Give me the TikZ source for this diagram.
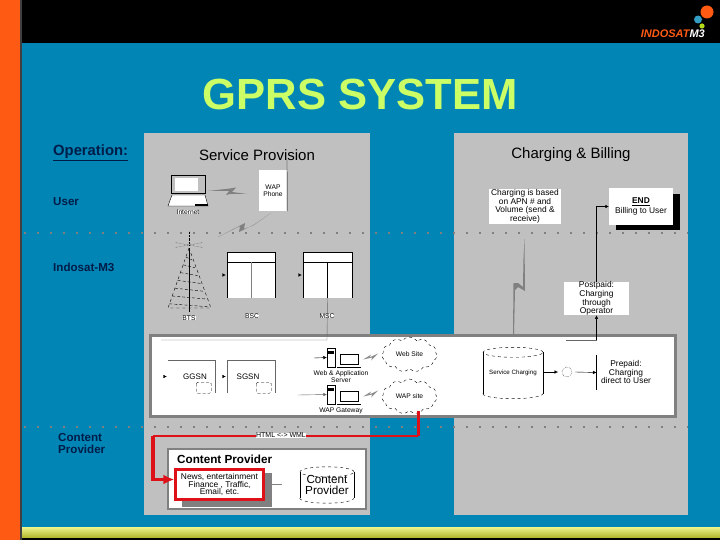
\documentclass[tikz,border=0pt]{standalone}
\usepackage{fontspec}
\setmainfont{Liberation Sans}
\usetikzlibrary{arrows.meta,shapes.symbols,calc}
\definecolor{slideblue}{RGB}{0,133,181}
\definecolor{panelgray}{RGB}{192,192,192}
\definecolor{labelnavy}{RGB}{0,28,72}
\definecolor{titlegreen}{RGB}{204,255,102}
\definecolor{logoorange}{RGB}{255,90,20}
\definecolor{linkred}{RGB}{222,16,24}
\definecolor{barlight}{RGB}{238,245,140}
\definecolor{bardark}{RGB}{175,180,40}
\tikzset{
    whitebox/.style={fill=white, inner sep=0pt, align=center, text=black},
    sidelabel/.style={anchor=west, inner sep=0pt, align=left, text=labelnavy, font=\fontsize{11.6}{12}\selectfont\bfseries},
    headlabel/.style={inner sep=0pt, text=black, font=\fontsize{15}{15}\selectfont},
    boxtext/.style={font=\fontsize{8.4}{7.8}\selectfont},
    tinytext/.style={whitebox, font=\fontsize{6.7}{7}\selectfont},
    dotline/.style={gray, line width=1.3pt, dash pattern=on 2pt off 11pt},
    tickin/.style={-{Latex[length=3.5pt,width=3.5pt]}, black},
    boltfill/.style={fill=black!50, draw=none},
    cloudsite/.style={cloud, cloud puffs=11, cloud puff arc=110, aspect=1.5, draw, dashed, fill=white, inner sep=0pt,
        minimum width=55pt, minimum height=35pt, font=\fontsize{6.7}{7}\selectfont},
    redlink/.style={linkred, line width=2pt},
    sheet/.style={draw=black!50, line width=2.4pt, fill=white, inner sep=0pt}
}
\begin{document}
\begin{tikzpicture}[x=1pt,y=-1pt]
    \useasboundingbox (0,0) rectangle (720,540);

    % 幻灯片背景
    \fill[slideblue] (0,0) rectangle (720,540);
    \fill[black] (0,0) rectangle (720,43);
    \shade[top color=barlight, bottom color=bardark] (22,527) rectangle (720,538);
    \fill[black] (22,538) rectangle (720,540);
    \fill[logoorange] (0,0) rectangle (20,540);
    \fill[black!75] (20,0) rectangle (22,540);

    % 标志
    \fill[logoorange] (707,12) circle (6.5);
    \fill[slideblue!80!white] (698,19.5) circle (4);
    \fill[yellow!70!green] (702,26) circle (2.6);
    \node[anchor=east, inner sep=0pt, font=\fontsize{11}{11}\selectfont\bfseries\itshape] (logo) at (705,34)
        {\textcolor{logoorange}{INDOSAT}\textcolor{white}{M3}};

    % 标题
    \node[inner sep=0pt, text=titlegreen, font=\fontsize{43.6}{44}\selectfont\bfseries] (title) at (360,94) {GPRS SYSTEM};

    % 灰色面板
    \fill[panelgray] (144,133) rectangle (370,515);
    \fill[panelgray] (454,133) rectangle (688,515);
    \foreach \y in {233,427} {
            \draw[dotline] (24,\y) -- (688,\y);
        }

    % 左侧标签
    \node[sidelabel, font=\fontsize{14.8}{15}\selectfont\bfseries] (operation) at (53,153) {\underline{Operation:}};
    \node[sidelabel] (user) at (53,202) {User};
    \node[sidelabel] (indosat) at (53,267) {Indosat-M3};
    \node[sidelabel, anchor=north west] (content) at (58,433) {Content\\Provider};

    % 面板标题
    \node[headlabel] (service) at (257,155) {Service Provision};
    \node[headlabel] (charging) at (571,155) {Charging \& Billing};

    % 笔记本和手机
    \draw[black, fill=panelgray] (171,175) rectangle (205,193);
    \fill[white] (175,178) rectangle (198,191);
    \draw[black, fill=white] (172,195) -- (205,195) -- (208,206) -- (168,206) -- cycle;
    \fill[black] (195,204) rectangle (208,206);
    \node[tinytext] (internet) at (188,212) {Internet};
    \node[whitebox, minimum width=28pt, minimum height=41pt, font=\fontsize{6.7}{7}\selectfont] (wapphone) at (273,190.5) {WAP\\Phone};
    \draw[black] (wapphone.south east) -- (287,160);
    \fill[boltfill] (208,191) -- (230,188.5) -- (236,187.5) -- (232,192) -- (247,194) -- (230,194) -- (226,195) -- (229,191) -- cycle;
    \fill[boltfill] (271,213) -- (254,225) -- (244,229) -- (245,223) -- (218,237) -- (240,226) -- (239,232) -- (255,224) -- cycle;

    % 基站塔
    \draw[black, dashed] (189,248) -- (168,308) -- (211,308) -- cycle;
    \draw[black] (189,248) -- (189,312);
    \foreach \t in {0.15,0.28,...,0.95} {
            \draw[black, densely dashed] ({189-21*\t},{248+60*\t}) -- ({189+21*\t},{248+60*\t+3});
        }
    \foreach \r in {-90,-170,-10,170,10} {
            \draw[black, densely dotted] (189,245) -- ++(\r:14);
        }
    \node[tinytext] (bts) at (189,318) {BTS};

    % BSC 和 MSC
    \node[whitebox, minimum width=48pt, minimum height=46pt] (bsc) at (251,275) {};
    \node[whitebox, minimum width=49pt, minimum height=46pt] (msc) at (327.5,275) {};
    \foreach \n in {bsc,msc} {
            \draw[black] (\n.south west) -- (\n.north west) -- (\n.north east) -- (\n.south east);
            \draw[black] ($(\n.north west)+(0,10)$) -- ($(\n.north east)+(0,10)$);
            \draw[tickin] ($(\n.west)+(-4,0)$) -- ($(\n.west)+(-1,0)$);
        }
    \draw[gray] ($(bsc.north)+(0,10)$) -- (bsc.south);
    \draw[black] ($(msc.north)+(0,10)$) -- (msc.south);
    \node[tinytext] (bsclabel) at (252,316) {BSC};
    \node[tinytext] (msclabel) at (327,316) {MSC};

    % 中部白色面板
    \node[sheet, minimum width=525pt, minimum height=81pt] (core) at (413,376) {};
    \coordinate (corelink) at (161,340);
    \draw[black!60] (msc.south) -- (327,340) -- (corelink);

    % GGSN 和 SGSN
    \node[whitebox, minimum width=47pt, minimum height=33pt, font=\fontsize{8}{8}\selectfont] (ggsn) at (191.5,376.5) {\hspace*{7pt}GGSN};
    \node[whitebox, minimum width=48pt, minimum height=33pt, font=\fontsize{8}{8}\selectfont] (sgsn) at (251,376.5) {\hspace*{-6pt}SGSN};
    \draw[black!60] (ggsn.north west) -- (ggsn.north east) -- (ggsn.south east);
    \draw[black!60] (sgsn.south west) -- (sgsn.north west) -- (sgsn.north east) -- (sgsn.south east);
    \foreach \n in {ggsn,sgsn} {
            \draw[tickin] ($(\n.west)+(-4,0)$) -- ($(\n.west)+(-1,0)$);
            \draw[black, densely dashed, rounded corners=1.5pt] ($(\n.south east)+(-19,-11)$) rectangle ($(\n.south east)+(-4,0)$);
        }

    % 服务器和网关
    \foreach \n/\y in {webrack/348,waprack/385} {
            \node[whitebox, draw=black, minimum width=8pt, minimum height=19pt] (\n) at (331,{\y+9.5}) {};
            \fill[black] ($(\n.north west)+(1,3)$) rectangle ($(\n.north east)+(-1,6)$);
            \draw[black, fill=white] ($(\n.east)+(5,-3)$) rectangle ($(\n.east)+(23,7)$);
            \draw[black] ($(\n.south east)+(2,0)$) -- ($(\n.south east)+(26,0)$);
            \fill[black!45] ($(\n.east)+(28,2)$) -- ($(\n.east)+(36,-3)$) -- ($(\n.east)+(34,0)$) -- ($(\n.east)+(43,-4)$) -- ($(\n.east)+(36,3)$) -- ($(\n.east)+(37,0)$) -- cycle;
        }
    \draw[tickin] (314,358) -- (webrack.west);
    \coordinate (waplink) at (298,395);
    \draw[tickin, black!60] (waplink) -- (waprack.west);
    \node[tinytext] (weblabel) at (341,376.5) {Web \& Application\\Server};
    \node[tinytext] (waplabel) at (341,411) {WAP Gateway};

    % 云
    \node[cloudsite] (website) at (409.5,354.5) {Web Site};
    \node[cloudsite] (wapsite) at (409.5,396.5) {WAP site};

    % 内容提供商
    \node[sheet, minimum width=198pt, minimum height=60pt] (cpanel) at (267,479) {};
    \node[inner sep=0pt, anchor=west, text=black, font=\fontsize{11.7}{12}\selectfont\bfseries] (cptitle) at (177,459) {Content Provider};
    \node[fill=black!50, inner sep=0pt, minimum width=90pt, minimum height=34pt] (newsshadow) at (227,490) {};
    \node[whitebox, draw=linkred, line width=2.4pt, boxtext, minimum width=88pt, minimum height=30pt] (news) at (219.5,484.5) {News, entertainment\\Finance , Traffic,\\Email, etc.};
    \coordinate (newslink) at (282,484);
    \draw[gray] (newsshadow.east |- newslink) -- (newslink);

    % 圆柱
    \node[inner sep=0pt, minimum width=60pt, minimum height=41pt, text=black, font=\fontsize{6.2}{7}\selectfont] (svccharge) at (513,373) {Service Charging};
    \node[inner sep=0pt, minimum width=54pt, minimum height=26pt, align=center, text=black, font=\fontsize{11.7}{11.5}\selectfont] (cpdb) at (327,485) {Content\\Provider};
    \foreach \c/\r in {svccharge/30,cpdb/27} {
            \draw[black, dashed] (\c.north) ellipse (\r pt and 5pt);
            \draw[black] (\c.north west) -- (\c.south west);
            \draw[black] (\c.north east) -- (\c.south east);
            \draw[black, dashed] (\c.south west) arc[start angle=180, end angle=360, x radius=\r pt, y radius=5pt];
        }

    % 计费
    \node[whitebox, boxtext, minimum width=72pt, minimum height=35pt] (rule) at (525,206.5) {Charging is based\\on APN \# and\\Volume (send \&\\receive)};
    \fill[black] (616,194) rectangle (680,230);
    \node[whitebox, boxtext, minimum width=64pt, minimum height=37pt] (endbill) at (641,206.5) {\textbf{\underline{END}}\\[1pt]Billing to User};
    \node[whitebox, boxtext, minimum width=65pt, minimum height=31pt] (postpaid) at (596.5,298.5) {Postpaid:\\Charging\\through\\Operator};
    \draw[tickin] (postpaid.north) |- (endbill.west);
    \coordinate (postlink) at (566,340);
    \draw[black!60] (postlink) -- (596.5,340);
    \draw[tickin] (596.5,340) -- (postpaid.south);

    % 预付费
    \node[inner sep=0pt, minimum width=1pt, minimum height=35pt] (prepaidbar) at (596.5,372.5) {};
    \draw[black] (prepaidbar.north) -- (prepaidbar.south);
    \node[inner sep=0pt, align=center, text=black, boxtext] (prepaid) at (626,372) {Prepaid:\\Charging\\direct to User};
    \coordinate (midcloud) at (567,372);
    \draw[tickin] (svccharge.east |- midcloud) -- (558,372);
    \draw[black, densely dotted] (midcloud) circle (5);
    \draw[tickin] (575,372) -- (prepaidbar.center);

    \fill[boltfill] (524.5,239) -- (525,291) -- (518,287) -- (515,290) -- (514,335) -- (513,335) -- (513.5,283) -- (518,283) -- (523,287) -- (523.5,258) -- cycle;

    % 红色连线
    \coordinate (redright) at (418,436);
    \coordinate (redleft) at (153,436);
    \draw[redlink, line width=3pt] (redright |- wapsite.south) -- (redright);
    \draw[redlink] (redright) -- (redleft);
    \draw[redlink, line width=3.4pt, -{Latex[length=11pt,width=10pt]}] (redleft) |- ($(news.west)+(0,-5)$);
    \node[tinytext, font=\fontsize{7}{7}\selectfont] (htmlwml) at (281,435.5) {HTML <-> WML};
\end{tikzpicture}
\end{document}
